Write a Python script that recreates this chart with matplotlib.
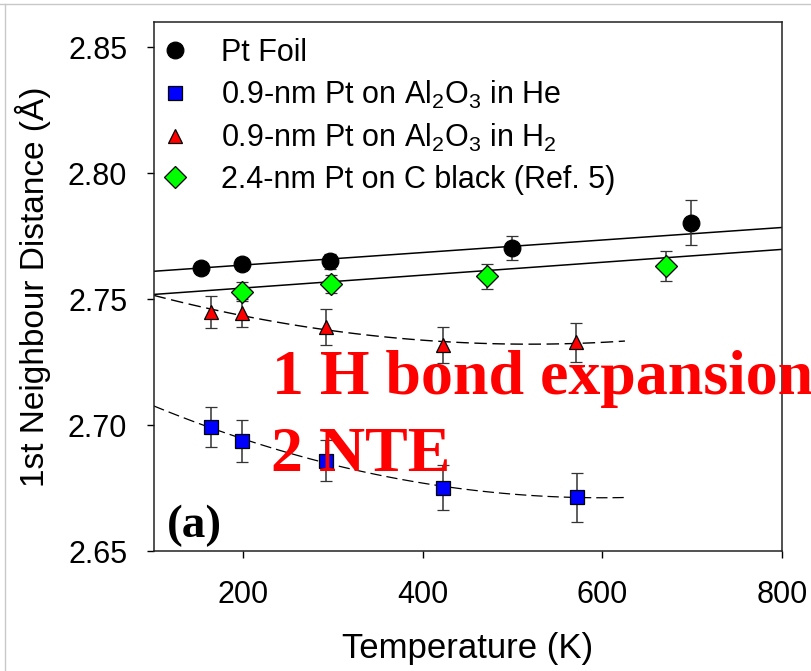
import numpy as np
import matplotlib
matplotlib.use("Agg")
from matplotlib import pyplot as plt
from matplotlib.lines import Line2D

plt.rcParams['font.family'] = ['Liberation Sans', 'DejaVu Sans']
plt.rcParams['mathtext.default'] = 'regular'

# Pt foil
foil_T = [153, 199, 297, 499, 699]
foil_d = [2.7625, 2.7641, 2.7651, 2.7704, 2.7804]
foil_err = [0.001, 0.001, 0.003, 0.0048, 0.009]

# 0.9-nm Pt on Al2O3 in He
he_T = [164, 199, 292, 422, 572]
he_d = [2.6993, 2.6937, 2.6859, 2.6752, 2.6714]
he_err = [0.0081, 0.0082, 0.0080, 0.0089, 0.0097]

# 0.9-nm Pt on Al2O3 in H2
h2_T = [164, 199, 292, 422, 571]
h2_d = [2.7449, 2.7445, 2.7390, 2.7318, 2.7329]
h2_err = [0.0063, 0.0055, 0.0071, 0.0072, 0.0077]

# 2.4-nm Pt on C black
cb_T = [199, 298, 471, 671]
cb_d = [2.7530, 2.7560, 2.7591, 2.7631]
cb_err = [0.0038, 0.0036, 0.0050, 0.0060]

# straight fit lines as drawn in the figure (ends at 100 K and 800 K)
fit_T = [100, 800]
foil_fit = [2.7611, 2.7785]
cb_fit = [2.7519, 2.7698]

xticks = [200, 400, 600, 800]
yticks = [2.65, 2.70, 2.75, 2.80, 2.85]

fig = plt.figure(figsize=(8.11, 6.71), dpi=100)
ax = fig.add_axes([0.1893, 0.1788, 0.7750, 0.7880])

# fits
t_q = np.linspace(100, 625, 80)
ax.plot(fit_T, foil_fit, color='black', lw=1.1, zorder=2)
ax.plot(fit_T, cb_fit, color='black', lw=1.1, zorder=2)
ax.plot(t_q, np.polyval(np.polyfit(h2_T, h2_d, 2), t_q), color='black', lw=1.0, ls=(0, (9, 4)), zorder=2)
ax.plot(t_q, np.polyval(np.polyfit(he_T, he_d, 2), t_q), color='black', lw=0.9, ls=(0, (9, 4)), zorder=2)

ebkw = dict(ls='none', ecolor='#333333', elinewidth=1.1, capsize=4.5, capthick=1.1,
            markeredgecolor='black', markeredgewidth=0.9)
c1 = ax.errorbar(foil_T, foil_d, yerr=foil_err, fmt='o', color='black', ms=12, **ebkw)
c2 = ax.errorbar(he_T, he_d, yerr=he_err, fmt='s', color='#0000ff', ms=10, **ebkw)
c3 = ax.errorbar(h2_T, h2_d, yerr=h2_err, fmt='^', color='#ff0000', ms=10.5, **ebkw)
c4 = ax.errorbar(cb_T, cb_d, yerr=cb_err, fmt='D', color='#00ff00', ms=11, **ebkw)

labels = ['Pt Foil', '0.9-nm Pt on Al$_2$O$_3$ in He',
          '0.9-nm Pt on Al$_2$O$_3$ in H$_2$', '2.4-nm Pt on C black (Ref. 5)']
handles = [c.lines[0] for c in (c1, c2, c3, c4)]

ax.set_xlim(100, 800)
ax.set_ylim(2.65, 2.86)
ax.set_xticks(xticks)
ax.set_yticks(yticks)
ax.set_yticklabels(['%.2f' % v for v in yticks])
ax.tick_params(axis='both', direction='out', length=5, width=1, labelsize=22)
ax.tick_params(axis='x', pad=16)
ax.tick_params(axis='y', pad=14)
for s in ax.spines.values():
    s.set_linewidth(1.1)
    s.set_color('#222222')

ax.set_xlabel('Temperature (K)', fontsize=25, labelpad=16)
ax.set_ylabel('1st Neighbour Distance (Å)', fontsize=24, labelpad=12)

ax.legend(handles, labels, loc='upper left', fontsize=22, frameon=False, handletextpad=1.0,
          labelspacing=0.36, borderaxespad=0.1, handlelength=1.0, numpoints=1,
          bbox_to_anchor=(-9 / 628.5, 1.0))

ax.text(0.1885, 0.297, '1 H bond expansion', transform=ax.transAxes, color='red',
        fontsize=46, fontweight='bold', family='Liberation Serif', clip_on=False)
ax.text(0.1865, 0.152, '2 NTE', transform=ax.transAxes, color='red',
        fontsize=46, fontweight='bold', family='Liberation Serif', clip_on=False)
ax.text(0.022, 0.027, '(a)', transform=ax.transAxes, color='black',
        fontsize=34, fontweight='bold', family='Liberation Serif')

# slide frame remnants
fig.add_artist(Line2D([0, 1], [1 - 3.5 / 671] * 2, transform=fig.transFigure, color='#c8c8c8', lw=1))
fig.add_artist(Line2D([5 / 811] * 2, [0, 1 - 3.5 / 671], transform=fig.transFigure, color='#c8c8c8', lw=1))

fig.savefig('out.png', dpi=100)
